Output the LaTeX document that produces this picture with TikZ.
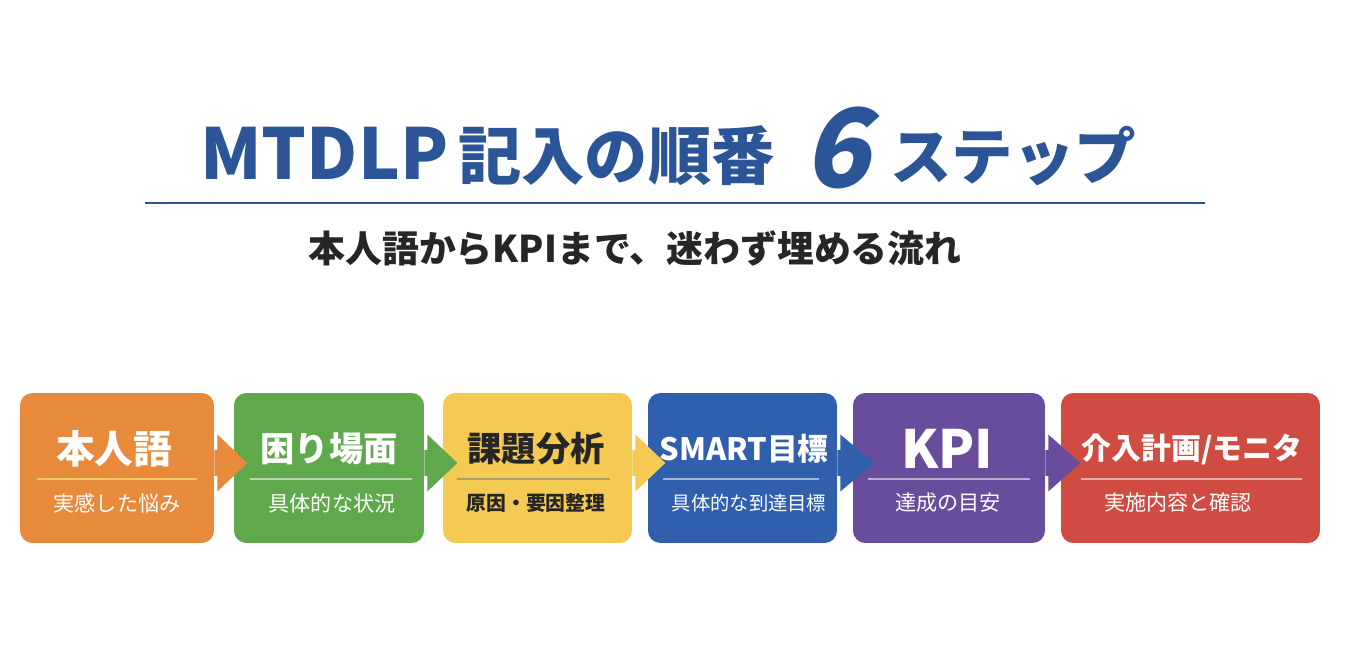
\documentclass[tikz,border=0pt]{standalone}
\usepackage{fontspec}
\setmainfont{Noto Sans CJK JP}
\newfontfamily\sixfont{Noto Sans CJK JP}[FakeSlant=0.22]
\usetikzlibrary{calc,positioning}
\definecolor{titleblue}{HTML}{2B5597}
\definecolor{subgray}{HTML}{262626}
\definecolor{steporange}{HTML}{E78A3B}
\definecolor{stepgreen}{HTML}{60A84C}
\definecolor{stepyellow}{HTML}{F5CA52}
\definecolor{stepblue}{HTML}{305FAE}
\definecolor{steppurple}{HTML}{6A4C9C}
\definecolor{stepred}{HTML}{D04B41}
\definecolor{sepyellow}{HTML}{F8C964}
\tikzset{fs/.style={font=\bfseries\fontsize{#1}{#1}\selectfont}}
\tikzstyle{stepbox}   = [rectangle, rounded corners=7pt, minimum height=3cm, inner sep=0pt]
\tikzstyle{steptitle} = [inner sep=0pt, text=white, anchor=center]
\tikzstyle{stepsub}   = [inner sep=0pt, text=white, font=\fontsize{12}{12}\selectfont]
\tikzstyle{sep}       = [line width=1pt, white, opacity=0.55]
\tikzstyle{titletext} = [inner sep=0pt, anchor=base west, text=titleblue]

\begin{document}
\begin{tikzpicture}[x=0.02cm, y=-0.02cm]
        \useasboundingbox[fill=white] (0,0) rectangle (1347,661);

        % heading
        \node[titletext, fs=40] (mtdlp) at (200,180) {MTDLP};
        \node[titletext, fs=36] (kinyu) at (458,180) {記入の順番};
        \node[titletext, font=\sixfont\bfseries\fontsize{62}{62}\selectfont] (six) at (803,188) {6};
        \node[titletext, fs=35] (steps) at (890,180) {ステップ};
        \coordinate (rulel) at (145,203);
        \coordinate (ruler) at (1205,203);
        \draw[titleblue, line width=1.1pt] (rulel) -- (ruler);
        \node[fs=21, text=subgray, inner sep=0pt] (lead) at (635,248) {本人語からKPIまで、迷わず埋める流れ};

        % steps
        \node[stepbox, fill=steporange, minimum width=3.88cm] (b1) at (117,468) {};
        \node[stepbox, fill=stepgreen,  minimum width=3.8cm]  (b2) at (329,468) {};
        \node[stepbox, fill=stepyellow, minimum width=3.78cm] (b3) at (537.5,468) {};
        \node[stepbox, fill=stepblue,   minimum width=3.78cm] (b4) at (742.5,468) {};
        \node[stepbox, fill=steppurple, minimum width=3.84cm] (b5) at (949,468) {};
        \node[stepbox, fill=stepred,    minimum width=5.18cm] (b6) at (1190.5,468) {};

        \fill[steporange] ($(b1.east)+(0,-18)$) -- ++(3,0) -- ++(0,-15.5) -- ++(30,28.5) -- ++(-30,28.5) -- ++(0,-15.5) -- ++(-3,0) -- cycle;
        \fill[stepgreen]  ($(b2.east)+(0,-18)$) -- ++(3,0) -- ++(0,-15.5) -- ++(30,28.5) -- ++(-30,28.5) -- ++(0,-15.5) -- ++(-3,0) -- cycle;
        \fill[stepyellow] ($(b3.east)+(0,-18)$) -- ++(3,0) -- ++(0,-15.5) -- ++(30,28.5) -- ++(-30,28.5) -- ++(0,-15.5) -- ++(-3,0) -- cycle;
        \fill[stepblue]   ($(b4.east)+(0,-18)$) -- ++(3,0) -- ++(0,-15.5) -- ++(34,28.5) -- ++(-34,28.5) -- ++(0,-15.5) -- ++(-3,0) -- cycle;
        \fill[steppurple] ($(b5.east)+(0,-18)$) -- ++(3,0) -- ++(0,-15.5) -- ++(32,28.5) -- ++(-32,28.5) -- ++(0,-15.5) -- ++(-3,0) -- cycle;

        \node[steptitle, fs=22] (t1) at (114,449) {本人語};
        \node[steptitle, fs=19.5] (t2) at (329,449) {困り場面};
        \node[steptitle, fs=19.5, text=subgray] (t3) at (536,449) {課題分析};
        \node[steptitle, fs=17.5] (t4) at (744,449) {SMART目標};
        \node[steptitle, fs=30] (t5) at (947,449) {KPI};
        \node[steptitle, fs=17] (t6) at (1192,449) {介入計画/モニタ};

        \draw[sepyellow, line width=1.2pt] ($(b1.west)+(17,11)$) -- ($(b1.east)+(-17,11)$);
        \draw[sep] ($(b2.west)+(16,11)$) -- ($(b2.east)+(-12,11)$);
        \draw[gray, line width=1pt, opacity=0.6] ($(b3.west)+(14,11)$) -- ($(b3.east)+(-22,11)$);
        \draw[sep] ($(b4.west)+(15,11)$) -- ($(b4.east)+(-18,11)$);
        \draw[sep] ($(b5.west)+(15,11)$) -- ($(b5.east)+(-15,11)$);
        \draw[sep] ($(b6.west)+(20,11)$) -- ($(b6.east)+(-18,11)$);

        \node[stepsub] (s1) at (117,503) {実感した悩み};
        \node[stepsub] (s2) at (332,503) {具体的な状況};
        \node[stepsub, text=subgray, font=\bfseries\fontsize{11.3}{11.3}\selectfont] (s3) at (536,503) {原因・要因整理};
        \node[stepsub, font=\fontsize{11}{11}\selectfont] (s4) at (749,503) {具体的な到達目標};
        \node[stepsub] (s5) at (948,503) {達成の目安};
        \node[stepsub] (s6) at (1178,503) {実施内容と確認};
\end{tikzpicture}
\end{document}
